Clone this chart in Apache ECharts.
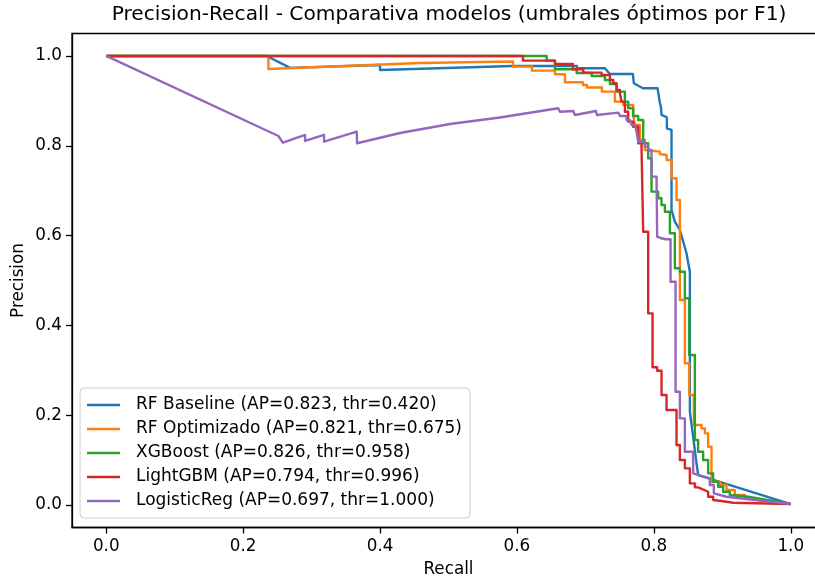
<!DOCTYPE html>
<html>
<head>
<meta charset="utf-8">
<script src="https://cdn.jsdelivr.net/npm/echarts@6/dist/echarts.min.js"></script>
<style>
  html, body { margin: 0; padding: 0; background: #fff; }
  #chart { width: 815px; height: 581px; }
</style>
</head>
<body>
<div id="chart"></div>
<script>
// Precision-recall points per model (recall, precision)
const rfBaseRecall = [0, 0.2346, 0.2686, 0.4, 0.4, 0.5942, 0.6876, 0.6876, 0.7285, 0.7358, 0.7693, 0.7708, 0.7839, 0.8054, 0.8088, 0.8102, 0.8112, 0.8190, 0.8190, 0.8258, 0.8258, 0.8307, 0.8380, 0.8477, 0.8526, 0.8526, 0.8526, 0.8574, 0.8623, 0.8647, 1.0];
const rfBasePrecision = [1.0, 1.0, 0.9735, 0.9800, 0.9688, 0.9777, 0.9777, 0.9726, 0.9726, 0.9599, 0.9599, 0.9392, 0.9281, 0.9281, 0.8953, 0.8871, 0.8686, 0.8635, 0.8390, 0.8352, 0.6570, 0.6310, 0.6125, 0.5606, 0.5189, 0.2412, 0.2078, 0.1521, 0.0929, 0.0668, 0.0022];

const rfOptRecall = [0, 0.2369, 0.2369, 0.4584, 0.5942, 0.5942, 0.6219, 0.6219, 0.6555, 0.6555, 0.6701, 0.6701, 0.6964, 0.6964, 0.7022, 0.7022, 0.7241, 0.7241, 0.7431, 0.7431, 0.7552, 0.7552, 0.7698, 0.7698, 0.7723, 0.7723, 0.7796, 0.7796, 0.7869, 0.7869, 0.8088, 0.8088, 0.8185, 0.8185, 0.8258, 0.8258, 0.8331, 0.8331, 0.8380, 0.8380, 0.8453, 0.8453, 0.8515, 0.8515, 0.8584, 0.8584, 0.8696, 0.8696, 0.8745, 0.8745, 0.8793, 0.8793, 0.8842, 0.8842, 0.8964, 0.8964, 0.9061, 0.9061, 0.9182, 0.9182, 0.9328, 0.9328, 1.0];
const rfOptPrecision = [1.0, 1.0, 0.9710, 0.9844, 0.9878, 0.9762, 0.9762, 0.9673, 0.9673, 0.9592, 0.9592, 0.9414, 0.9414, 0.9354, 0.9354, 0.9298, 0.9298, 0.9205, 0.9205, 0.8982, 0.8982, 0.8909, 0.8909, 0.8686, 0.8686, 0.8463, 0.8463, 0.8129, 0.8129, 0.7906, 0.7869, 0.7817, 0.7795, 0.7684, 0.7684, 0.7276, 0.7276, 0.6793, 0.6793, 0.4566, 0.4566, 0.3156, 0.3156, 0.2450, 0.2450, 0.1782, 0.1782, 0.1708, 0.1708, 0.1597, 0.1597, 0.1298, 0.1298, 0.0519, 0.0519, 0.0445, 0.0445, 0.0334, 0.0334, 0.0223, 0.0223, 0.0149, 0.0022];

const xgbRecall = [0, 0.6434, 0.6434, 0.6555, 0.6555, 0.6872, 0.6872, 0.7091, 0.7091, 0.7285, 0.7285, 0.7358, 0.7358, 0.7455, 0.7455, 0.7577, 0.7577, 0.7625, 0.7625, 0.7698, 0.7698, 0.7771, 0.7771, 0.7844, 0.7844, 0.7917, 0.7917, 0.7966, 0.7966, 0.8063, 0.8063, 0.8112, 0.8112, 0.8161, 0.8161, 0.8234, 0.8234, 0.8307, 0.8307, 0.8380, 0.8380, 0.8453, 0.8453, 0.8515, 0.8515, 0.8599, 0.8599, 0.8647, 0.8647, 0.8720, 0.8720, 0.8793, 0.8793, 0.8866, 0.8866, 0.8939, 0.8939, 0.9012, 0.9012, 0.9109, 0.9109, 0.9377, 1.0];
const xgbPrecision = [1.0, 1.0, 0.9895, 0.9895, 0.9704, 0.9704, 0.9621, 0.9621, 0.9555, 0.9555, 0.9465, 0.9465, 0.9376, 0.9376, 0.9205, 0.9205, 0.8982, 0.8982, 0.8835, 0.8835, 0.8664, 0.8664, 0.8575, 0.8575, 0.8056, 0.8056, 0.7722, 0.7722, 0.6978, 0.6978, 0.6831, 0.6831, 0.6682, 0.6682, 0.6532, 0.6532, 0.6051, 0.6051, 0.5272, 0.5272, 0.5196, 0.5196, 0.4604, 0.4604, 0.3341, 0.3341, 0.1448, 0.1448, 0.1187, 0.1187, 0.1002, 0.1002, 0.0706, 0.0706, 0.0519, 0.0519, 0.0408, 0.0408, 0.0296, 0.0296, 0.0223, 0.0185, 0.0022];

const lgbmRecall = [0, 0.6088, 0.6088, 0.6555, 0.6555, 0.6818, 0.6818, 0.6968, 0.6968, 0.7236, 0.7236, 0.7358, 0.7358, 0.7406, 0.7406, 0.7455, 0.7455, 0.7504, 0.7504, 0.7528, 0.7528, 0.7577, 0.7577, 0.7625, 0.7625, 0.7698, 0.7698, 0.7771, 0.7771, 0.7820, 0.7820, 0.7844, 0.7844, 0.7917, 0.7917, 0.7981, 0.7981, 0.8048, 0.8048, 0.8112, 0.8112, 0.8185, 0.8185, 0.8331, 0.8331, 0.8380, 0.8380, 0.8453, 0.8453, 0.8526, 0.8526, 0.8599, 0.8599, 0.8647, 0.8647, 0.8793, 0.8793, 0.8866, 0.8866, 0.8988, 0.9158, 1.0];
const lgbmPrecision = [1.0, 1.0, 0.9895, 0.9895, 0.9822, 0.9822, 0.9704, 0.9704, 0.9628, 0.9628, 0.9577, 0.9577, 0.9465, 0.9465, 0.9392, 0.9392, 0.9243, 0.9243, 0.9169, 0.9169, 0.8982, 0.8982, 0.8759, 0.8759, 0.8537, 0.8537, 0.8425, 0.8425, 0.8056, 0.8056, 0.7944, 0.7944, 0.6087, 0.6087, 0.4269, 0.4269, 0.3067, 0.3067, 0.2991, 0.2991, 0.2450, 0.2450, 0.2116, 0.2116, 0.1336, 0.1336, 0.1002, 0.1002, 0.0817, 0.0817, 0.0483, 0.0483, 0.0394, 0.0394, 0.0356, 0.0296, 0.0185, 0.0185, 0.0111, 0.0089, 0.0051, 0.0022];

const logRegRecall = [0, 0.2515, 0.2580, 0.2905, 0.2905, 0.3182, 0.3182, 0.3660, 0.3664, 0.4292, 0.5022, 0.5752, 0.6603, 0.6628, 0.6822, 0.6847, 0.7153, 0.7168, 0.7479, 0.7504, 0.7601, 0.7601, 0.7650, 0.7674, 0.7723, 0.7747, 0.7771, 0.7771, 0.7869, 0.7869, 0.7917, 0.7917, 0.7966, 0.7966, 0.8039, 0.8048, 0.8112, 0.8175, 0.8244, 0.8244, 0.8317, 0.8317, 0.8380, 0.8380, 0.8453, 0.8453, 0.8574, 0.8574, 0.8818, 0.8818, 0.8876, 0.8876, 0.9061, 1.0];
const logRegPrecision = [1.0, 0.8218, 0.8069, 0.8241, 0.8107, 0.8241, 0.8091, 0.8314, 0.8056, 0.8285, 0.8486, 0.8630, 0.8835, 0.8759, 0.8775, 0.8686, 0.8775, 0.8686, 0.8737, 0.8664, 0.8664, 0.8575, 0.8575, 0.8463, 0.8463, 0.8314, 0.8314, 0.8091, 0.8091, 0.7980, 0.7980, 0.7906, 0.7906, 0.7312, 0.7312, 0.5976, 0.5940, 0.5918, 0.5918, 0.4973, 0.4973, 0.2523, 0.2523, 0.1931, 0.1931, 0.1187, 0.1187, 0.0706, 0.0595, 0.0445, 0.0445, 0.0261, 0.0185, 0.0022];

const modelNames = [
  'RF Baseline (AP=0.823, thr=0.420)',
  'RF Optimizado (AP=0.821, thr=0.675)',
  'XGBoost (AP=0.826, thr=0.958)',
  'LightGBM (AP=0.794, thr=0.996)',
  'LogisticReg (AP=0.697, thr=1.000)'
];
const modelColors = ['#1f77b4', '#ff7f0e', '#2ca02c', '#d62728', '#9467bd'];
const recallSets = [rfBaseRecall, rfOptRecall, xgbRecall, lgbmRecall, logRegRecall];
const precisionSets = [rfBasePrecision, rfOptPrecision, xgbPrecision, lgbmPrecision, logRegPrecision];

const tickValues = [0, 0.2, 0.4, 0.6, 0.8, 1.0];

const FONT = 'DejaVu Sans';
const TICK_FONT = 16.8;
const chart = echarts.init(document.getElementById('chart'), null, { renderer: 'canvas' });

const series = modelNames.map((name, k) => ({
  name: name,
  type: 'line',
  showSymbol: false,
  symbol: 'none',
  animation: false,
  color: modelColors[k],
  lineStyle: { width: 2.4, color: modelColors[k], join: 'round' },
  data: recallSets[k].map((r, i) => [r, precisionSets[k][i]])
}));

function axisCommon(nameText, nameGap, labelMargin) {
  return {
    type: 'value',
    min: -0.05,
    max: 1.05,
    name: nameText,
    nameLocation: 'middle',
    nameGap: nameGap,
    nameMoveOverlap: false,
    nameTextStyle: { fontFamily: FONT, fontSize: TICK_FONT, color: '#000' },
    axisLine: { show: true, onZero: false, lineStyle: { color: '#000', width: 1.3 } },
    axisTick: { show: true, inside: false, length: 6, lineStyle: { color: '#000', width: 1.3 }, customValues: tickValues },
    axisLabel: {
      show: true, margin: labelMargin, fontFamily: FONT, fontSize: TICK_FONT, color: '#000',
      customValues: tickValues,
      formatter: v => v.toFixed(1)
    },
    splitLine: { show: false }
  };
}

chart.setOption({
  backgroundColor: '#fff',
  animation: false,
  title: {
    text: 'Precision-Recall - Comparativa modelos (umbrales óptimos por F1)',
    left: 449,
    top: 5,
    textAlign: 'center',
    padding: 0,
    textStyle: { fontFamily: FONT, fontSize: 20.2, fontWeight: 'normal', color: '#000' }
  },
  grid: {
    left: 72,
    top: 33.5,
    width: 753,
    height: 494,
    containLabel: false,
    outerBoundsMode: 'none',
    show: true,
    borderColor: '#000',
    borderWidth: 1.3,
    backgroundColor: 'transparent'
  },
  xAxis: axisCommon('Recall', 34, 11),
  yAxis: axisCommon('Precision', 45, 10),
  legend: {
    show: true,
    orient: 'vertical',
    left: 80,
    top: 388,
    padding: [8, 8, 8, 7],
    itemGap: 6,
    itemWidth: 33,
    itemHeight: 2.4,
    icon: 'rect',
    backgroundColor: 'rgba(255,255,255,0.8)',
    borderColor: '#cccccc',
    borderWidth: 1,
    borderRadius: 4,
    selectedMode: false,
    textStyle: { fontFamily: FONT, fontSize: 17, color: '#000', lineHeight: 18, padding: [0, 0, 0, 11] },
    data: modelNames
  },
  series: series
});
</script>
</body>
</html>
